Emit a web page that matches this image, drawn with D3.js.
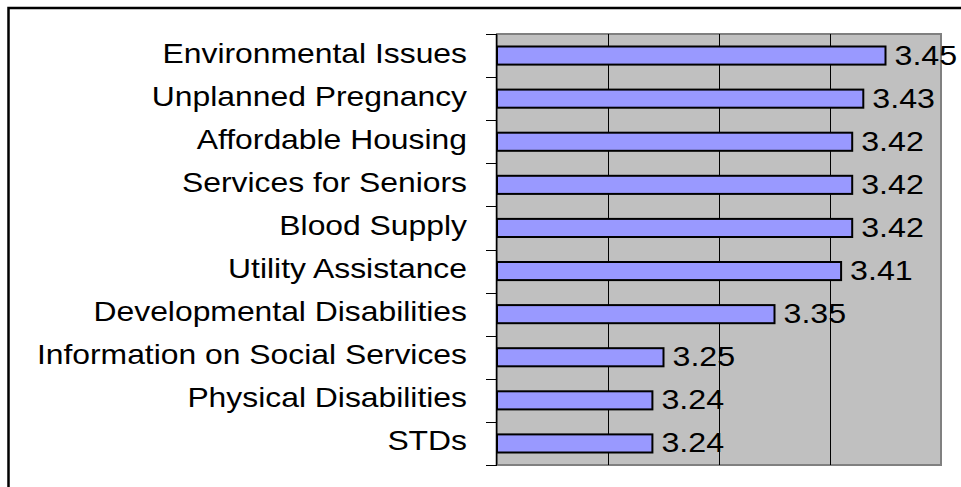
<!DOCTYPE html>
<html>
<head>
<meta charset="utf-8">
<script src="https://cdn.jsdelivr.net/npm/d3@7"></script>
<style>
  body { margin: 0; background: #fff; }
  svg { display: block; }
  text { font-family: "Liberation Sans", Arial, sans-serif; fill: #000; }
</style>
</head>
<body>
<svg id="chart" width="961" height="487"></svg>
<script>
// data
const categories = [
  'Environmental Issues',
  'Unplanned Pregnancy',
  'Affordable Housing',
  'Services for Seniors',
  'Blood Supply',
  'Utility Assistance',
  'Developmental Disabilities',
  'Information on Social Services',
  'Physical Disabilities',
  'STDs'
];
const values = [3.45, 3.43, 3.42, 3.42, 3.42, 3.41, 3.35, 3.25, 3.24, 3.24];
const xDomain = [3.1, 3.5];
const gridTicks = [3.2, 3.3, 3.4];

const svg = d3.select('#chart');

// outer frame, runs off the right and bottom of the picture
svg.append('rect')
  .attr('x', 8.5)
  .attr('y', 8)
  .attr('width', 1000)
  .attr('height', 600)
  .attr('fill', 'none')
  .attr('stroke', '#000')
  .attr('stroke-width', 2.5);

const plotLeft = 497, plotRight = 941, plotTop = 34, plotBottom = 465;

const x = d3.scaleLinear().domain(xDomain).range([plotLeft, plotRight]);
const y = d3.scaleBand()
  .domain(categories)
  .range([plotTop, plotBottom])
  .paddingInner(0.58)
  .paddingOuter(0.29);

// plot area
svg.append('rect')
  .attr('x', plotLeft)
  .attr('y', plotTop)
  .attr('width', plotRight - plotLeft)
  .attr('height', plotBottom - plotTop)
  .attr('fill', '#c0c0c0')
  .attr('stroke', '#808080')
  .attr('stroke-width', 2);

// vertical grid lines
svg.selectAll('.grid')
  .data(gridTicks)
  .join('line')
  .attr('class', 'grid')
  .attr('x1', d => Math.round(x(d)) + 0.5)
  .attr('x2', d => Math.round(x(d)) + 0.5)
  .attr('y1', plotTop)
  .attr('y2', plotBottom)
  .attr('stroke', '#000')
  .attr('stroke-width', 1);

// category axis line + tick marks at band boundaries
svg.append('line')
  .attr('x1', plotLeft - 0.5)
  .attr('x2', plotLeft - 0.5)
  .attr('y1', plotTop)
  .attr('y2', plotBottom)
  .attr('stroke', '#000')
  .attr('stroke-width', 1.5);

const step = y.step();
const boundaries = d3.range(categories.length + 1).map(i => plotTop + i * step);
svg.selectAll('.tick')
  .data(boundaries)
  .join('line')
  .attr('class', 'tick')
  .attr('x1', plotLeft - 11)
  .attr('x2', plotLeft)
  .attr('y1', d => Math.round(d) + 0.5)
  .attr('y2', d => Math.round(d) + 0.5)
  .attr('stroke', '#000')
  .attr('stroke-width', 1);

// bars
svg.selectAll('.bar')
  .data(values)
  .join('rect')
  .attr('class', 'bar')
  .attr('x', x(xDomain[0]))
  .attr('y', (d, i) => y(categories[i]))
  .attr('width', d => x(d) - x(xDomain[0]))
  .attr('height', y.bandwidth())
  .attr('fill', '#9999ff')
  .attr('stroke', '#000')
  .attr('stroke-width', 2);

// category labels (the source is stretched sideways)
svg.selectAll('.cat')
  .data(categories)
  .join('g')
  .attr('class', 'cat')
  .attr('transform', d => `translate(${plotLeft - 30},${y(d) + y.bandwidth() / 2 + 7}) scale(1.18,1)`)
  .append('text')
  .attr('text-anchor', 'end')
  .attr('font-size', 27)
  .text(d => d);

// value labels
svg.selectAll('.val')
  .data(values)
  .join('g')
  .attr('class', 'val')
  .attr('transform', (d, i) => `translate(${x(d) + 9},${y(categories[i]) + y.bandwidth() / 2 + 9}) scale(1.15,1)`)
  .append('text')
  .attr('font-size', 28)
  .text(d => d3.format('.2f')(d));
</script>
</body>
</html>
